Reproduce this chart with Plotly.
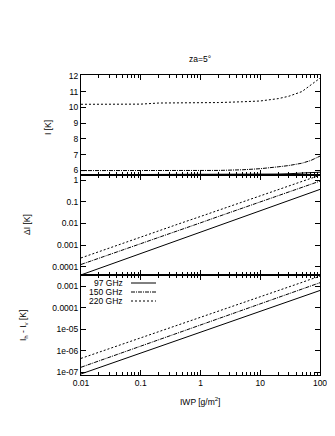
import plotly.graph_objects as go
from plotly.subplots import make_subplots

# ice water path [g/m2]
iwp = [0.01, 0.02, 0.05, 0.1, 0.2, 0.5, 1, 2, 5, 10, 20, 30, 50, 70, 100]

freqs = ["97 GHz", "150 GHz", "220 GHz"]

# I [K]
i_97 = [5.72, 5.72, 5.72, 5.72, 5.72, 5.72, 5.72, 5.72, 5.73, 5.74, 5.76, 5.78, 5.81, 5.84, 5.88]
i_150 = [5.98, 5.98, 5.98, 5.98, 5.98, 5.98, 5.98, 5.99, 6.03, 6.10, 6.22, 6.30, 6.45, 6.62, 6.90]
i_220 = [10.19, 10.19, 10.19, 10.20, 10.27, 10.27, 10.28, 10.30, 10.35, 10.40, 10.55, 10.70, 11.0, 11.4, 11.85]

# Delta I [K]
di_97 = [4.3e-5, 8.5e-5, 2.0e-4, 4.1e-4, 8.2e-4, 2.0e-3, 4.0e-3, 7.9e-3, 0.0195, 0.0385, 0.076, 0.114, 0.19, 0.265, 0.37]
di_150 = [1.3e-4, 2.5e-4, 6.0e-4, 1.17e-3, 2.3e-3, 5.5e-3, 0.0107, 0.021, 0.05, 0.098, 0.19, 0.28, 0.46, 0.64, 0.89]
di_220 = [2.6e-4, 5.1e-4, 1.2e-3, 2.35e-3, 4.55e-3, 0.011, 0.021, 0.041, 0.098, 0.19, 0.36, 0.54, 0.87, 1.23, 1.66]

# I_h - I_v [K]
dp_97 = [8.1e-8, 1.6e-7, 3.9e-7, 7.6e-7, 1.5e-6, 3.65e-6, 7.1e-6, 1.4e-5, 3.45e-5, 6.8e-5, 1.33e-4, 2.0e-4, 3.25e-4, 4.55e-4, 6.3e-4]
dp_150 = [1.66e-7, 3.3e-7, 8.1e-7, 1.6e-6, 3.15e-6, 7.8e-6, 1.55e-5, 3.1e-5, 7.6e-5, 1.5e-4, 2.95e-4, 4.4e-4, 7.2e-4, 1.02e-3, 1.45e-3]
dp_220 = [4.3e-7, 8.3e-7, 2.0e-6, 3.9e-6, 7.6e-6, 1.8e-5, 3.5e-5, 6.8e-5, 1.6e-4, 3.2e-4, 6.2e-4, 9.1e-4, 1.5e-3, 2.1e-3, 2.9e-3]

x_ticks = [0.01, 0.1, 1, 10, 100]
x_labels = ["0.01", "0.1", "1", "10", "100"]
i_ticks = [6, 7, 8, 9, 10, 11, 12]
di_ticks = [1, 0.1, 0.01, 0.001, 0.0001]
di_labels = ["1", "0.1", "0.01", "0.001", "0.0001"]
dp_ticks = [0.001, 0.0001, 1e-5, 1e-6, 1e-7]
dp_labels = ["0.001", "0.0001", "1e-05", "1e-06", "1e-07"]

dashes = ["solid", "4px,1px,1px,1px", "2px,2px"]
FONT = "Liberation Sans"

fig = make_subplots(rows=3, cols=1, shared_xaxes=True, vertical_spacing=0)

panels = [(i_97, i_150, i_220), (di_97, di_150, di_220), (dp_97, dp_150, dp_220)]
for row, series in enumerate(panels, start=1):
    for name, ys, dash in zip(freqs, series, dashes):
        fig.add_trace(go.Scatter(x=iwp, y=ys, mode="lines", name=name, showlegend=False,
                                 line=dict(color="black", width=1, dash=dash)),
                      row=row, col=1)

axis_style = dict(showline=True, linecolor="black", linewidth=1, mirror="allticks",
                  ticks="inside", ticklen=5, tickcolor="black", showgrid=False,
                  zeroline=False, tickfont=dict(family=FONT, size=8.5, color="black"))

for row in (1, 2, 3):
    fig.update_xaxes(type="log", range=[-2, 2], tickvals=x_ticks, ticktext=x_labels,
                     showticklabels=(row == 3),
                     minor=dict(ticks="inside", ticklen=3, tickcolor="black",
                                tickvals=[k * 10 ** e for e in (-2, -1, 0, 1) for k in range(2, 10)]),
                     row=row, col=1, **axis_style)

fig.update_yaxes(range=[5.7, 12.05], tickvals=i_ticks, row=1, col=1, **axis_style)
fig.update_yaxes(type="log", range=[-4.37, 0.23], tickvals=di_ticks, ticktext=di_labels,
                 row=2, col=1, **axis_style)
fig.update_yaxes(type="log", range=[-7.14, -2.48], tickvals=dp_ticks, ticktext=dp_labels,
                 row=3, col=1, **axis_style)

L, R, T, B = 73, 23, 67, 69
W, H = 335, 436
pw, ph = W - L - R, H - T - B


def px(x):
    return (x - L) / pw


def py(y):
    return (H - B - y) / ph


txt = dict(family=FONT, size=8.5, color="black")
annotations = [
    dict(text="za=5°", x=px(192), y=py(51)),
    dict(text="IWP [g/m<sup>2</sup>]", x=px(192), y=py(393)),
    dict(text="I [K]", x=px(40), y=py(120), textangle=-90),
    dict(text="ΔI [K]", x=px(19), y=py(217), textangle=-90),
    dict(text="I<sub>h</sub> - I<sub>v</sub> [K]", x=px(15), y=py(318), textangle=-90),
]
for a in annotations:
    a.update(xref="paper", yref="paper", showarrow=False, font=txt,
             xanchor="center", yanchor="middle")
    fig.add_annotation(**a)

# gnuplot style key: label then line sample
for k, (name, dash) in enumerate(zip(freqs, dashes)):
    yk = py(275 + 9 * k)
    fig.add_annotation(text=name, x=px(117), y=yk, xref="paper", yref="paper",
                       showarrow=False, font=txt, xanchor="right", yanchor="middle")
    fig.add_shape(type="line", xref="paper", yref="paper", x0=px(123), x1=px(148),
                  y0=yk, y1=yk, line=dict(color="black", width=1, dash=dash))

fig.update_layout(width=W, height=H, margin=dict(l=L, r=R, t=T, b=B),
                  plot_bgcolor="white", paper_bgcolor="white",
                  font=dict(family=FONT, size=8.5, color="black"))

fig.write_html("out.html")
